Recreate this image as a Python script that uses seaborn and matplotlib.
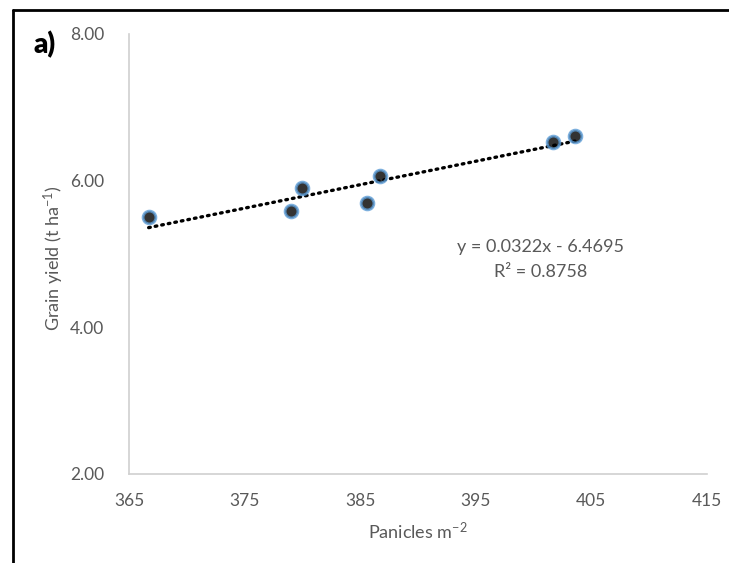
import matplotlib
matplotlib.use("Agg")
import matplotlib.pyplot as plt
from matplotlib.lines import Line2D
import seaborn as sns
import pandas as pd

# Data
panicles = [366.7, 379.0, 380.0, 385.6, 386.7, 401.7, 403.6]
grain_yield = [5.50, 5.58, 5.90, 5.69, 6.07, 6.53, 6.61]
x_ticks = [365, 375, 385, 395, 405, 415]
y_ticks = [2.00, 4.00, 6.00, 8.00]
equation_text = "y = 0.0322x - 6.4695"
r2_text = "R² = 0.8758"

df = pd.DataFrame({"Panicles": panicles, "Yield": grain_yield})

sns.set_theme(style="white")
plt.rcParams["font.family"] = ["Lato", "DejaVu Sans"]
plt.rcParams["mathtext.fontset"] = "custom"
plt.rcParams["mathtext.rm"] = "Lato"

fig = plt.figure(figsize=(7.29, 5.63), dpi=100)
ax = fig.add_axes([129 / 729, 1 - 474 / 563, (707 - 129) / 729, (474 - 34) / 563])

gray_text = "#595959"

sns.regplot(data=df, x="Panicles", y="Yield", ax=ax, ci=None, truncate=True,
            scatter_kws=dict(s=85, color="black", edgecolor="#5b9bd5", linewidths=2.0, zorder=3),
            line_kws=dict(color="black", linewidth=2.4, linestyle=(0, (0.5, 1.5)),
                          dash_capstyle="round", zorder=2))

ax.set_xlim(365, 415)
ax.set_ylim(2, 8)
ax.set_xticks(x_ticks)
ax.set_xticklabels([str(v) for v in x_ticks])
ax.set_yticks(y_ticks)
ax.set_yticklabels([f"{v:.2f}" for v in y_ticks])
ax.tick_params(axis="both", length=0, labelsize=12.5, labelcolor=gray_text)
ax.tick_params(axis="x", pad=14)
ax.tick_params(axis="y", pad=18)

for side in ["top", "right"]:
    ax.spines[side].set_visible(False)
for side in ["left", "bottom"]:
    ax.spines[side].set_color("#d0d0d0")
    ax.spines[side].set_linewidth(1.2)

ax.set_xlabel(r"Panicles m$\mathregular{^{-2}}$", fontsize=13, color=gray_text)
ax.set_ylabel(r"Grain yield (t ha$\mathregular{^{-1}}$)", fontsize=13, color=gray_text)
ax.xaxis.set_label_coords(0.5, (474 - 521) / 440)
ax.yaxis.set_label_coords((66 - 129) / 578, 0.49)

ax.text(400.6, 5.10, equation_text, ha="center", va="center", fontsize=13, color=gray_text)
ax.text(400.6, 4.76, r2_text, ha="center", va="center", fontsize=13, color=gray_text)

fig.text(34 / 729, 1 - 45 / 563, "a)", fontsize=20, fontweight="heavy", color="black",
         ha="left", va="center")

# Border lines (top and left), as in the reference
fig.add_artist(Line2D([12.5 / 729, 12.5 / 729], [0, 1 - 10 / 563], transform=fig.transFigure,
                      color="black", linewidth=2))
fig.add_artist(Line2D([12.5 / 729, 1], [1 - 10 / 563, 1 - 10 / 563], transform=fig.transFigure,
                      color="black", linewidth=2))

fig.savefig("out.png", dpi=100)
